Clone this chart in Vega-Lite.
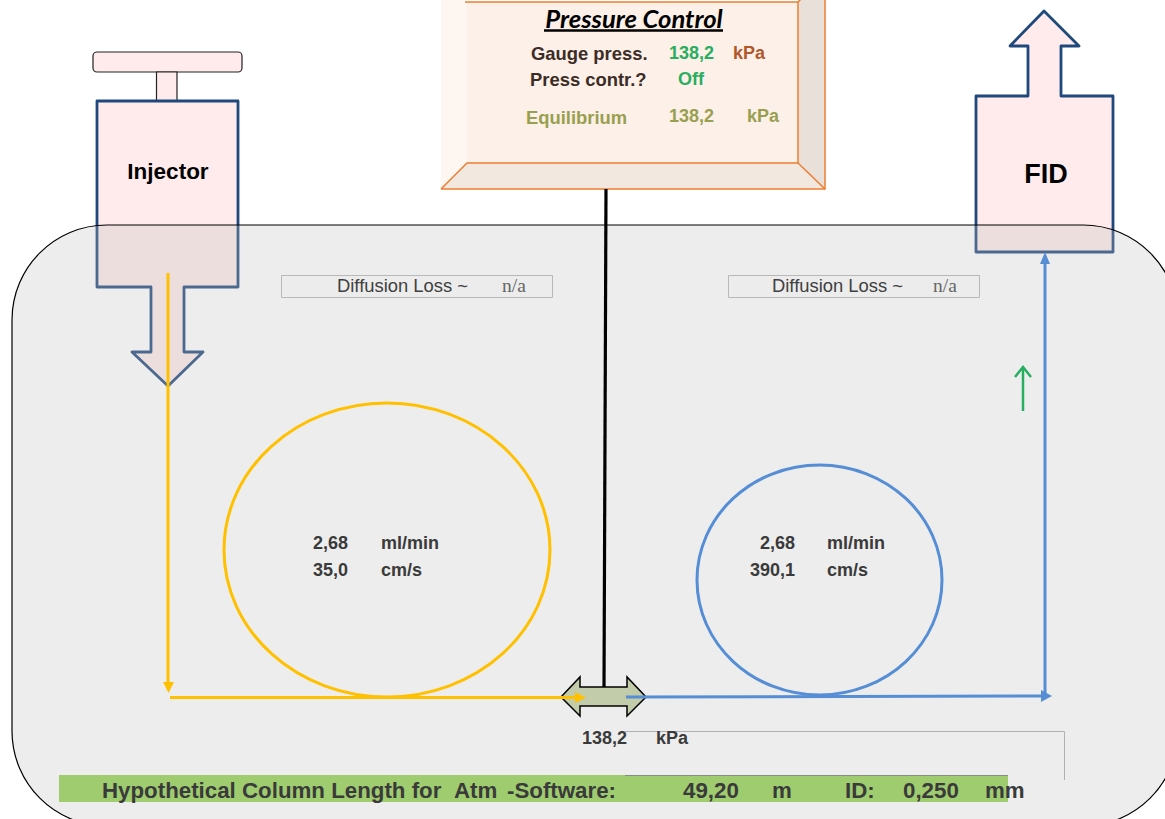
{
"$schema":"https://vega.github.io/schema/vega-lite/v6.json",
"width":1165,"height":819,"padding":0,"autosize":{"type":"none"},
"background":"white",
"config":{"view":{"stroke":null},"text":{"font":"Liberation Sans"}},
"datasets":{
"handle":[{"x":93,"x2":242,"y":52,"y2":72}],
"stem":[{"x":156.5,"x2":177,"y":72,"y2":101}],
"oven":[{"x":12,"x2":1178,"y":225,"y2":826}],
"bar":[{"x":59,"x2":1008,"y":775,"y2":802}],
"loss":[{"x":281.5,"x2":552.5,"y":275.5,"y2":297.5},{"x":728.5,"x2":979.5,"y":275.5,"y2":297.5}],
"injectorShape":[{"i":0,"x":97,"y":101},{"i":1,"x":238,"y":101},{"i":2,"x":238,"y":287},{"i":3,"x":184,"y":287},{"i":4,"x":184,"y":352},{"i":5,"x":203,"y":352},{"i":6,"x":168,"y":386},{"i":7,"x":132,"y":352},{"i":8,"x":151,"y":352},{"i":9,"x":151,"y":287},{"i":10,"x":97,"y":287}],
"fidShape":[{"i":0,"x":976,"y":96},{"i":1,"x":1028,"y":96},{"i":2,"x":1028,"y":46},{"i":3,"x":1010,"y":46},{"i":4,"x":1044,"y":11},{"i":5,"x":1079,"y":46},{"i":6,"x":1061,"y":46},{"i":7,"x":1061,"y":96},{"i":8,"x":1113,"y":96},{"i":9,"x":1113,"y":252},{"i":10,"x":976,"y":252}],
"pcFront":[{"i":0,"x":467,"y":2},{"i":1,"x":798,"y":2},{"i":2,"x":798,"y":163},{"i":3,"x":467,"y":163}],
"pcLeft":[{"i":0,"x":441,"y":-24},{"i":1,"x":467,"y":2},{"i":2,"x":467,"y":163},{"i":3,"x":441,"y":189}],
"pcRight":[{"i":0,"x":825,"y":-24},{"i":1,"x":798,"y":2},{"i":2,"x":798,"y":163},{"i":3,"x":825,"y":189}],
"pcBottom":[{"i":0,"x":441,"y":189},{"i":1,"x":467,"y":163},{"i":2,"x":798,"y":163},{"i":3,"x":825,"y":189}],
"pcEdges":[
{"s":"a","i":0,"x":441,"y":189},{"s":"a","i":1,"x":825,"y":189},{"s":"a","i":2,"x":825,"y":-5},
{"s":"b","i":0,"x":465,"y":2},{"s":"b","i":1,"x":798,"y":2},{"s":"b","i":2,"x":798,"y":163},{"s":"b","i":3,"x":467,"y":163},{"s":"b","i":4,"x":441,"y":189},
{"s":"c","i":0,"x":798,"y":163},{"s":"c","i":1,"x":825,"y":189},
{"s":"d","i":0,"x":798,"y":2},{"s":"d","i":1,"x":805,"y":-5}],
"underline":[{"i":0,"x":544,"y":30.5},{"i":1,"x":723,"y":30.5}],
"pole":[{"i":0,"x":606,"y":189},{"i":1,"x":604,"y":687}],
"tee":[{"i":0,"x":561,"y":697},{"i":1,"x":580,"y":677},{"i":2,"x":580,"y":687},{"i":3,"x":627,"y":687},{"i":4,"x":627,"y":677},{"i":5,"x":646,"y":697},{"i":6,"x":627,"y":716},{"i":7,"x":627,"y":706},{"i":8,"x":580,"y":706},{"i":9,"x":580,"y":716}],
"yellowLines":[{"s":"a","i":0,"x":168,"y":273},{"s":"a","i":1,"x":168,"y":684},{"s":"b","i":0,"x":170,"y":697.5},{"s":"b","i":1,"x":578,"y":697.5}],
"yellowHeads":[{"s":"a","i":0,"x":163,"y":682},{"s":"a","i":1,"x":174,"y":682},{"s":"a","i":2,"x":168.5,"y":693},{"s":"b","i":0,"x":575,"y":692},{"s":"b","i":1,"x":586,"y":697.5},{"s":"b","i":2,"x":575,"y":703}],
"blueLines":[{"s":"a","i":0,"x":626,"y":697},{"s":"a","i":1,"x":1044,"y":696},{"s":"b","i":0,"x":1045,"y":696},{"s":"b","i":1,"x":1045,"y":262}],
"blueHeads":[{"s":"a","i":0,"x":1041,"y":690},{"s":"a","i":1,"x":1052,"y":696},{"s":"a","i":2,"x":1041,"y":702},{"s":"b","i":0,"x":1040,"y":264},{"s":"b","i":1,"x":1045,"y":252},{"s":"b","i":2,"x":1050,"y":264}],
"green":[{"s":"a","i":0,"x":1023,"y":411},{"s":"a","i":1,"x":1023,"y":368},{"s":"b","i":0,"x":1015,"y":377},{"s":"b","i":1,"x":1023,"y":367},{"s":"b","i":2,"x":1031,"y":377}],
"coilL":[{"i":0,"x":550,"y":550},{"i":1,"x":537.6,"y":606.3},{"i":2,"x":502.3,"y":653.9},{"i":3,"x":449.4,"y":685.8},{"i":4,"x":387,"y":697},{"i":5,"x":324.6,"y":685.8},{"i":6,"x":271.7,"y":653.9},{"i":7,"x":236.4,"y":606.3},{"i":8,"x":224,"y":550},{"i":9,"x":236.4,"y":493.7},{"i":10,"x":271.7,"y":446.1},{"i":11,"x":324.6,"y":414.2},{"i":12,"x":387,"y":403},{"i":13,"x":449.4,"y":414.2},{"i":14,"x":502.3,"y":446.1},{"i":15,"x":537.6,"y":493.7}],
"coilR":[{"i":0,"x":942,"y":580},{"i":1,"x":932.7,"y":624},{"i":2,"x":906.1,"y":661.3},{"i":3,"x":866.4,"y":686.2},{"i":4,"x":819.5,"y":695},{"i":5,"x":772.6,"y":686.2},{"i":6,"x":732.9,"y":661.3},{"i":7,"x":706.3,"y":624},{"i":8,"x":697,"y":580},{"i":9,"x":706.3,"y":536},{"i":10,"x":732.9,"y":498.7},{"i":11,"x":772.6,"y":473.8},{"i":12,"x":819.5,"y":465},{"i":13,"x":866.4,"y":473.8},{"i":14,"x":906.1,"y":498.7},{"i":15,"x":932.7,"y":536}],
"grayL":[{"i":0,"x":625,"y":731.5},{"i":1,"x":1064.5,"y":731.5},{"i":2,"x":1064.5,"y":780}],
"barTop":[{"i":0,"x":625,"y":775.5},{"i":1,"x":1008,"y":775.5}]
},
"encoding":{
"x":{"field":"x","type":"quantitative","scale":{"domain":[0,1165],"nice":false,"zero":false},"axis":null},
"y":{"field":"y","type":"quantitative","scale":{"domain":[0,819],"reverse":true,"nice":false,"zero":false},"axis":null}
},
"layer":[
{"data":{"name":"handle"},"mark":{"type":"rect","fill":"#ffebeb","stroke":"#222222","strokeWidth":1.2,"cornerRadius":4},"encoding":{"x2":{"field":"x2"},"y2":{"field":"y2"}}},
{"data":{"name":"stem"},"mark":{"type":"rect","fill":"#ffebeb","stroke":"#222222","strokeWidth":1.2},"encoding":{"x2":{"field":"x2"},"y2":{"field":"y2"}}},
{"data":{"name":"injectorShape"},"mark":{"type":"line","interpolate":"linear-closed","fill":"#ffebeb","stroke":"#1f497d","strokeWidth":2.8,"strokeJoin":"round"},"encoding":{"order":{"field":"i"}}},
{"data":{"name":"fidShape"},"mark":{"type":"line","interpolate":"linear-closed","fill":"#ffebeb","stroke":"#1f497d","strokeWidth":2.8,"strokeJoin":"round"},"encoding":{"order":{"field":"i"}}},
{"data":{"name":"oven"},"mark":{"type":"rect","fill":"#bfbfbf","fillOpacity":0.28,"stroke":"#000000","strokeWidth":1.2,"cornerRadius":95},"encoding":{"x2":{"field":"x2"},"y2":{"field":"y2"}}},
{"data":{"name":"loss"},"mark":{"type":"rect","fill":"#ececec","stroke":"#b8b8b8","strokeWidth":1},"encoding":{"x2":{"field":"x2"},"y2":{"field":"y2"}}},
{"data":{"name":"pcFront"},"mark":{"type":"line","interpolate":"linear-closed","fill":"#fdf0e8","strokeWidth":0},"encoding":{"order":{"field":"i"}}},
{"data":{"name":"pcLeft"},"mark":{"type":"line","interpolate":"linear-closed","fill":"#fef6f0","strokeWidth":0},"encoding":{"order":{"field":"i"}}},
{"data":{"name":"pcRight"},"mark":{"type":"line","interpolate":"linear-closed","fill":"#e9e0da","strokeWidth":0},"encoding":{"order":{"field":"i"}}},
{"data":{"name":"pcBottom"},"mark":{"type":"line","interpolate":"linear-closed","fill":"#f2e8e0","strokeWidth":0},"encoding":{"order":{"field":"i"}}},
{"data":{"name":"pcEdges"},"mark":{"type":"line","stroke":"#ed7d31","strokeWidth":1.5},"encoding":{"order":{"field":"i"},"detail":{"field":"s"}}},
{"data":{"name":"underline"},"mark":{"type":"line","stroke":"#000000","strokeWidth":2.5},"encoding":{"order":{"field":"i"}}},
{"data":{"name":"coilL"},"mark":{"type":"line","interpolate":"cardinal-closed","stroke":"#ffc000","strokeWidth":3},"encoding":{"order":{"field":"i"}}},
{"data":{"name":"coilR"},"mark":{"type":"line","interpolate":"cardinal-closed","stroke":"#558ed5","strokeWidth":3},"encoding":{"order":{"field":"i"}}},
{"data":{"name":"grayL"},"mark":{"type":"line","stroke":"#b0b0b0","strokeWidth":1},"encoding":{"order":{"field":"i"}}},
{"data":{"name":"bar"},"mark":{"type":"rect","fill":"#9fcc6f"},"encoding":{"x2":{"field":"x2"},"y2":{"field":"y2"}}},
{"data":{"name":"barTop"},"mark":{"type":"line","stroke":"#8a8a8a","strokeWidth":1},"encoding":{"order":{"field":"i"}}},
{"data":{"name":"tee"},"mark":{"type":"line","interpolate":"linear-closed","fill":"#c3ccaa","stroke":"#000000","strokeWidth":1.5},"encoding":{"order":{"field":"i"}}},
{"data":{"name":"pole"},"mark":{"type":"line","stroke":"#000000","strokeWidth":3.2},"encoding":{"order":{"field":"i"}}},
{"data":{"name":"yellowLines"},"mark":{"type":"line","stroke":"#ffc000","strokeWidth":3},"encoding":{"order":{"field":"i"},"detail":{"field":"s"}}},
{"data":{"name":"yellowHeads"},"mark":{"type":"line","interpolate":"linear-closed","fill":"#ffc000","strokeWidth":0},"encoding":{"order":{"field":"i"},"detail":{"field":"s"}}},
{"data":{"name":"blueLines"},"mark":{"type":"line","stroke":"#558ed5","strokeWidth":3},"encoding":{"order":{"field":"i"},"detail":{"field":"s"}}},
{"data":{"name":"blueHeads"},"mark":{"type":"line","interpolate":"linear-closed","fill":"#558ed5","strokeWidth":0},"encoding":{"order":{"field":"i"},"detail":{"field":"s"}}},
{"data":{"name":"green"},"mark":{"type":"line","stroke":"#27ae60","strokeWidth":2.5},"encoding":{"order":{"field":"i"},"detail":{"field":"s"}}},
{"data":{"values":[{"x":168,"y":172,"t":"Injector"}]},"mark":{"type":"text","fontWeight":"bold","fontSize":22.5,"fill":"#000000","baseline":"middle","align":"center"},"encoding":{"text":{"field":"t"}}},
{"data":{"values":[{"x":1046,"y":174.5,"t":"FID"}]},"mark":{"type":"text","fontWeight":"bold","fontSize":27,"fill":"#000000","baseline":"middle","align":"center"},"encoding":{"text":{"field":"t"}}},
{"data":{"values":[{"x":634,"y":20,"t":"Pressure Control"}]},"mark":{"type":"text","font":"Lato","fontWeight":"bold","fontStyle":"italic","fontSize":25.6,"fill":"#000000","baseline":"middle","align":"center"},"encoding":{"text":{"field":"t"}}},
{"data":{"values":[{"x":531,"y":54,"t":"Gauge press."},{"x":530,"y":80,"t":"Press contr.?"}]},"mark":{"type":"text","fontWeight":"bold","fontSize":18.4,"fill":"#3b2d26","baseline":"middle","align":"left"},"encoding":{"text":{"field":"t"}}},
{"data":{"values":[{"x":669,"y":54,"t":"138,2"},{"x":678,"y":80,"t":"Off"}]},"mark":{"type":"text","fontWeight":"bold","fontSize":18,"fill":"#27ae60","baseline":"middle","align":"left"},"encoding":{"text":{"field":"t"}}},
{"data":{"values":[{"x":733,"y":54,"t":"kPa"}]},"mark":{"type":"text","fontWeight":"bold","fontSize":18,"fill":"#b0582a","baseline":"middle","align":"left"},"encoding":{"text":{"field":"t"}}},
{"data":{"values":[{"x":526,"y":118,"t":"Equilibrium"}]},"mark":{"type":"text","fontWeight":"bold","fontSize":18.4,"fill":"#98a050","baseline":"middle","align":"left"},"encoding":{"text":{"field":"t"}}},
{"data":{"values":[{"x":669,"y":117,"t":"138,2"},{"x":747,"y":117,"t":"kPa"}]},"mark":{"type":"text","fontWeight":"bold","fontSize":18,"fill":"#98a050","baseline":"middle","align":"left"},"encoding":{"text":{"field":"t"}}},
{"data":{"values":[{"x":337,"y":286,"t":"Diffusion Loss ~"},{"x":772,"y":286,"t":"Diffusion Loss ~"}]},"mark":{"type":"text","fontSize":18.4,"fill":"#404040","baseline":"middle","align":"left"},"encoding":{"text":{"field":"t"}}},
{"data":{"values":[{"x":502,"y":286,"t":"n/a"},{"x":933,"y":286,"t":"n/a"}]},"mark":{"type":"text","font":"Liberation Serif","fontSize":19.5,"fill":"#666666","baseline":"middle","align":"left"},"encoding":{"text":{"field":"t"}}},
{"data":{"values":[{"x":348,"y":544,"t":"2,68"},{"x":348,"y":571,"t":"35,0"},{"x":795,"y":544,"t":"2,68"},{"x":795,"y":571,"t":"390,1"},{"x":627,"y":739,"t":"138,2"}]},"mark":{"type":"text","fontWeight":"bold","fontSize":18,"fill":"#3a3a3a","baseline":"middle","align":"right"},"encoding":{"text":{"field":"t"}}},
{"data":{"values":[{"x":381,"y":544,"t":"ml/min"},{"x":381,"y":571,"t":"cm/s"},{"x":827,"y":544,"t":"ml/min"},{"x":827,"y":571,"t":"cm/s"},{"x":656,"y":739,"t":"kPa"}]},"mark":{"type":"text","fontWeight":"bold","fontSize":18,"fill":"#3a3a3a","baseline":"middle","align":"left"},"encoding":{"text":{"field":"t"}}},
{"data":{"values":[{"x":102,"y":791,"t":"Hypothetical Column Length for"},{"x":454,"y":791,"t":"Atm"},{"x":507,"y":791,"t":"-Software:"},{"x":683,"y":791,"t":"49,20"},{"x":772,"y":791,"t":"m"},{"x":845,"y":791,"t":"ID:"},{"x":903,"y":791,"t":"0,250"},{"x":985,"y":791,"t":"mm"}]},"mark":{"type":"text","fontWeight":"bold","fontSize":22.3,"fill":"#3a3a3a","baseline":"middle","align":"left"},"encoding":{"text":{"field":"t"}}}
]
}
